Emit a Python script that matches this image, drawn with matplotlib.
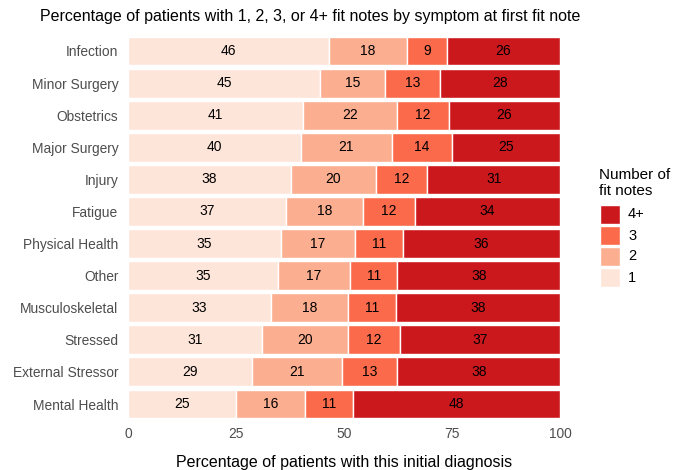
import matplotlib
matplotlib.use("Agg")
import matplotlib.pyplot as plt
from matplotlib.patches import Rectangle
import numpy as np

plt.rcParams['font.family'] = ['Liberation Sans', 'DejaVu Sans']

categories = ["Infection", "Minor Surgery", "Obstetrics", "Major Surgery", "Injury",
              "Fatigue", "Physical Health", "Other", "Musculoskeletal", "Stressed",
              "External Stressor", "Mental Health"]
one = [46, 45, 41, 40, 38, 37, 35, 35, 33, 31, 29, 25]
two = [18, 15, 22, 21, 20, 18, 17, 17, 18, 20, 21, 16]
three = [9, 13, 12, 14, 12, 12, 11, 11, 11, 12, 13, 11]
four = [26, 28, 26, 25, 31, 34, 36, 38, 38, 37, 38, 48]
series_labels = ["1", "2", "3", "4+"]
colors = ["#FEE5D9", "#FCAE91", "#FB6A4A", "#CB181D"]

data = np.array([one, two, three, four], dtype=float)
totals = data.sum(axis=0)
pct = data / totals * 100

W, H = 675, 470
fig = plt.figure(figsize=(6.75, 4.7), dpi=100)
ax = fig.add_axes([128/W, 1-423.3/H, (560-128)/W, (423.3-31.7)/H])

y = np.arange(len(categories))[::-1]
left = np.zeros(len(categories))
for i in range(4):
    ax.barh(y, pct[i], left=left, height=0.9, color=colors[i],
            edgecolor="white", linewidth=1.0, label=series_labels[i])
    for yy, l, w, v in zip(y, left, pct[i], data[i]):
        ax.text(l + w/2, yy, f"{int(v)}", ha="center", va="center",
                fontsize=10, color="black")
    left += pct[i]

ax.set_xlim(0, 100)
ax.set_ylim(-0.6, len(categories) - 0.4)
ax.set_yticks(y)
ax.set_yticklabels(categories, fontsize=9.9, color="#4D4D4D")
ax.set_xticks([0, 25, 50, 75, 100])
ax.set_xticklabels(["0", "25", "50", "75", "100"], fontsize=9.9, color="#4D4D4D")
ax.tick_params(axis="y", length=0, pad=7)
ax.tick_params(axis="x", length=0, pad=3)
for s in ax.spines.values():
    s.set_visible(False)
fig.text(344/W, 1-462/H, "Percentage of patients with this initial diagnosis",
         ha="center", va="center", fontsize=11.5)
fig.text(310/W, 1-16/H, "Percentage of patients with 1, 2, 3, or 4+ fit notes by symptom at first fit note",
         ha="center", va="center", fontsize=11.5)

# legend
fig.text(599/W, 1-175/H, "Number of", ha="left", va="center", fontsize=11)
fig.text(599/W, 1-191/H, "fit notes", ha="left", va="center", fontsize=11)
key_tops = [205, 226, 247, 268]
for k, top in enumerate(key_tops):
    idx = 3 - k
    fig.patches.append(Rectangle((600/W, 1-(top+19)/H), 20/W, 19/H,
                                 transform=fig.transFigure, facecolor=colors[idx],
                                 edgecolor="white", linewidth=1.0))
    fig.text(628/W, 1-(top+9.5)/H, series_labels[idx], ha="left", va="center", fontsize=10.5)

fig.savefig("out.png", dpi=100)
